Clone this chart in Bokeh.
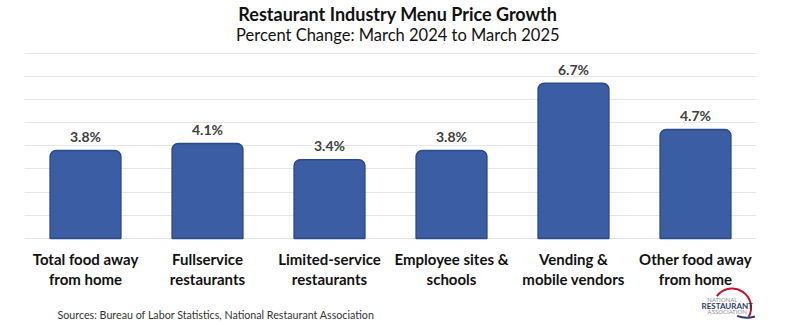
from bokeh.plotting import figure
from bokeh.models import FactorRange, Range1d, FixedTicker, Label, ColumnDataSource, LabelSet
from bokeh.core.properties import value
from bokeh.embed import file_html
from bokeh.resources import INLINE

categories = ["Total food away\nfrom home", "Fullservice\nrestaurants", "Limited-service\nrestaurants",
              "Employee sites &\nschools", "Vending &\nmobile vendors", "Other food away\nfrom home"]
values = [3.8, 4.1, 3.4, 3.8, 6.7, 4.7]
value_labels = ["3.8%", "4.1%", "3.4%", "3.8%", "6.7%", "4.7%"]
grid_ticks = [0, 1, 2, 3, 4, 5, 6, 7, 8]

FONT = "Lato"

p = figure(width=798, height=325, output_backend="svg", toolbar_location=None,
           x_range=FactorRange(factors=categories, range_padding=0),
           y_range=Range1d(-3.755, 10.27),
           min_border_left=24, min_border_right=42, min_border_top=0, min_border_bottom=0)
p.outline_line_color = None
p.background_fill_color = "white"
p.border_fill_color = "white"
p.xaxis.visible = False
p.yaxis.visible = False
p.xgrid.visible = False
p.ygrid.ticker = FixedTicker(ticks=grid_ticks)
p.ygrid.grid_line_color = "#E6E6E6"
p.ygrid.grid_line_width = 1.2

src = ColumnDataSource(dict(x=categories, top=values, lab=value_labels))
p.vbar(x="x", top="top", bottom=0, width=0.58, source=src,
       fill_color="#3A5DA3", line_color="#2C4A88", line_width=1.5,
       border_radius=(6, 6, 0, 0))

labels = LabelSet(x="x", y="top", text="lab", source=src, y_offset=14,
                  text_align="center", text_baseline="middle",
                  text_font=value(FONT), text_font_size="14px", text_font_style="bold",
                  text_color="#404040")
p.add_layout(labels)

# category labels (two lines each)
p.text(x="x", y=-1.30, text="x", source=src, text_align="center", text_baseline="middle",
       text_font=value(FONT), text_font_size="15px", text_font_style="bold",
       text_color="#111111", text_line_height=1.1)

p.add_layout(Label(x=3.06, y=9.70, text="Restaurant Industry Menu Price Growth",
                   text_align="center", text_baseline="middle", text_font=FONT,
                   text_font_size="18px", text_font_style="bold", text_color="#111111"))
p.add_layout(Label(x=3.06, y=8.76, text="Percent Change: March 2024 to March 2025",
                   text_align="center", text_baseline="middle", text_font=FONT,
                   text_font_size="16.5px", text_color="#111111"))
p.add_layout(Label(x=0.27, y=-3.28, text="Sources: Bureau of Labor Statistics, National Restaurant Association",
                   text_align="left", text_baseline="middle", text_font=FONT,
                   text_font_size="10.7px", text_color="#333333"))

# logo
p.arc(x=5.80, y=-2.98, radius=19, radius_units="screen", start_angle=-0.5, end_angle=2.5,
      line_color="#C8102E", line_width=2)
p.arc(x=5.92, y=-2.30, radius=26, radius_units="screen", start_angle=-1.95, end_angle=-1.25,
      line_color="#2B3A67", line_width=2)
p.add_layout(Label(x=5.72, y=-2.64, text="NATIONAL", text_align="center", text_baseline="middle",
                   text_font=FONT, text_font_size="6px", text_color="#8A8F9C"))
p.add_layout(Label(x=5.76, y=-2.90, text="RESTAURANT", text_align="center", text_baseline="middle",
                   text_font=FONT, text_font_size="8px", text_font_style="bold", text_color="#2B3A67"))
p.add_layout(Label(x=5.76, y=-3.16, text="ASSOCIATION", text_align="center", text_baseline="middle",
                   text_font=FONT, text_font_size="6px", text_color="#8A8F9C"))

open("out.html", "w").write(file_html(p, INLINE))
